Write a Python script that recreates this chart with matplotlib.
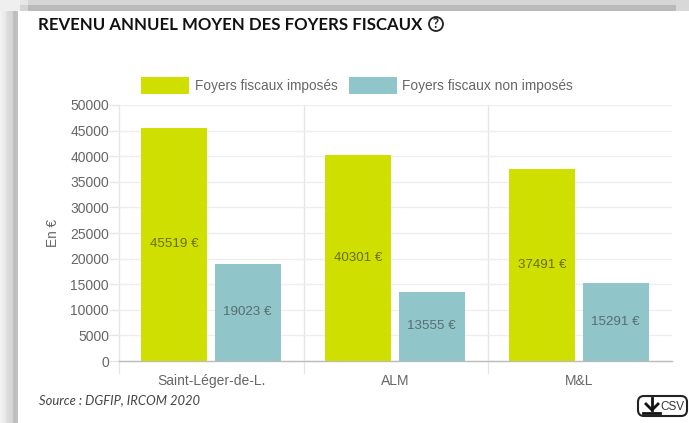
import matplotlib
matplotlib.use('Agg')
import matplotlib.pyplot as plt
import numpy as np
from matplotlib.patches import Rectangle, FancyBboxPatch, Circle

# Values
communes = ['Saint-Léger-de-L.', 'ALM', 'M&L']
imposes = [45519, 40301, 37491]
non_imposes = [19023, 13555, 15291]
y_ticks = [0, 5000, 10000, 15000, 20000, 25000, 30000, 35000, 40000, 45000, 50000]

green = '#cfdf00'
teal = '#90c5c9'
grey = '#666666'

fig = plt.figure(figsize=(6.89, 4.23), dpi=100, facecolor='white')

# full figure layer in pixels for the page decoration
page = fig.add_axes([0, 0, 1, 1], zorder=0)
page.axis('off')

# shadow of the card, left and top
left_shade = np.array([[0.95, 0.94, 0.93, 0.92, 0.92, 0.91, 0.88, 0.86, 0.85, 0.85, 0.84, 0.84, 0.82, 0.76, 0.74, 0.74, 0.75, 0.76]])
page.imshow(left_shade, extent=(0, 18, 423, 11), cmap='gray', vmin=0, vmax=1, aspect='auto')
page.add_patch(Rectangle((0, 0), 689, 5, color='#d6d6d6', lw=0))
page.add_patch(Rectangle((0, 5), 689, 6, color='#bababa', lw=0))
page.add_patch(Rectangle((0, 0), 20, 11, color='#efefef', lw=0))
page.add_patch(Rectangle((20, 0), 8, 5, color='#e6e6e6', lw=0))
page.add_patch(Rectangle((20, 5), 8, 6, color='#d4d4d4', lw=0))
page.add_patch(Rectangle((676, 0), 13, 11, color='#d8d8d8', lw=0))
page.set_xlim(0, 689)
page.set_ylim(423, 0)

# title
page.text(38, 25, 'REVENU ANNUEL MOYEN DES FOYERS FISCAUX', family='Lato', fontweight='bold',
          fontsize=12.1, color='#111111', va='center', ha='left')
page.add_patch(Circle((436, 24), 7, fc='white', ec='#222222', lw=1.3))
page.text(436, 24.3, '?', family='Lato', fontweight='bold', fontsize=9.5, color='#222222', va='center', ha='center')

# legend
page.add_patch(Rectangle((141, 77), 48, 17, fc=green, ec='none'))
page.text(195, 86, 'Foyers fiscaux imposés', family='Liberation Sans', fontsize=9.8, color=grey, va='center')
page.add_patch(Rectangle((349, 77), 48, 17, fc=teal, ec='none'))
page.text(402, 86, 'Foyers fiscaux non imposés', family='Liberation Sans', fontsize=9.9, color=grey, va='center')

# source
page.text(39, 400, 'Source : DGFIP, IRCOM 2020', family='Lato', style='italic', fontsize=9.4,
          color='#444444', va='center')

# csv button
page.add_patch(FancyBboxPatch((638, 396), 49, 20, boxstyle='round,pad=0,rounding_size=6',
                              fc='white', ec='#222222', lw=1.5))
page.plot([652, 652], [398, 410], color='#111111', lw=2)
page.plot([646, 652, 658], [404, 410, 404], color='#111111', lw=2)
page.plot([643, 660], [413, 413], color='#111111', lw=2)
page.text(672, 407, 'CSV', family='Liberation Sans', fontsize=8.5, color='#333333', va='center', ha='center')

# chart
ax = fig.add_axes([119.5 / 689, (423 - 361) / 423, 552 / 689, 256 / 423], zorder=1)
ax.patch.set_alpha(0)
x = np.arange(len(communes)) + 0.5
ax.bar(x - 0.203, imposes, width=0.359, color=green, zorder=3)
ax.bar(x + 0.197, non_imposes, width=0.359, color=teal, zorder=3)

for xi, v in zip(x - 0.203, imposes):
    ax.text(xi, v / 2, f'{v} €', ha='center', va='center', family='Liberation Sans', fontsize=9.6,
            color='black', alpha=0.5, zorder=4)
for xi, v in zip(x + 0.197, non_imposes):
    ax.text(xi, v / 2, f'{v} €', ha='center', va='center', family='Liberation Sans', fontsize=9.6,
            color='#333333', alpha=0.6, zorder=4)

ax.set_xlim(0, 3)
ax.set_ylim(0, 50000)
ax.set_yticks(y_ticks)
ax.set_yticklabels([str(t) for t in y_ticks], family='Liberation Sans', fontsize=10, color=grey)
ax.set_xticks(x)
ax.set_xticklabels(communes, family='Liberation Sans', fontsize=10, color=grey)
ax.set_ylabel('En €', family='Liberation Sans', fontsize=9.8, color=grey, labelpad=7)

ax.tick_params(axis='x', length=0, pad=9)
ax.tick_params(axis='y', length=7, width=1, color='#e6e6e6', pad=0.5)
ax.grid(axis='y', color='#eeeeee', lw=1, zorder=0)
for s in ['top', 'right', 'left']:
    ax.spines[s].set_visible(False)
ax.spines['bottom'].set_color('#bbbbbb')
ax.spines['bottom'].set_linewidth(1)

# vertical separators run below the axis line
for gx in [0, 1, 2]:
    ax.plot([gx, gx], [-2300, 50000], color='#e6e6e6', lw=1, zorder=1, clip_on=False)

fig.savefig('out.png', dpi=100)
